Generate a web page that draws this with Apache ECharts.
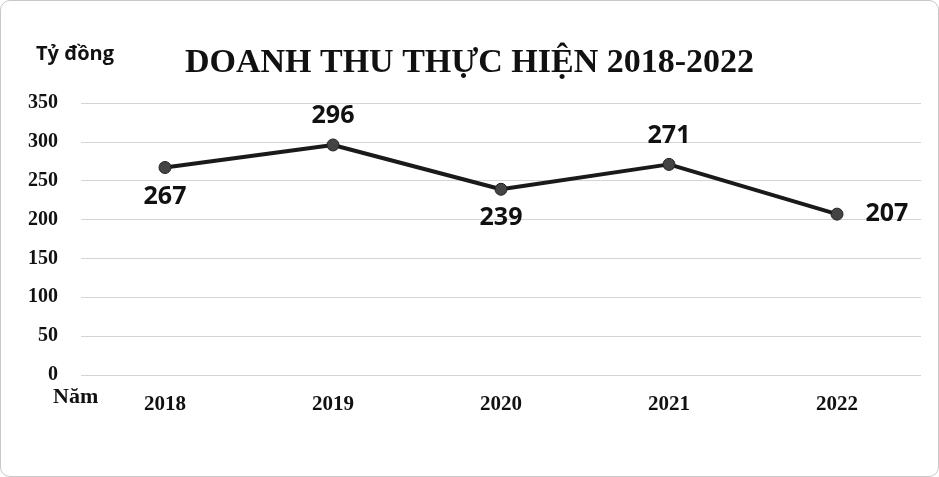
<!DOCTYPE html>
<html>
<head>
<meta charset="utf-8">
<script src="https://cdn.jsdelivr.net/npm/echarts@6/dist/echarts.min.js"></script>
<style>
  html, body { margin: 0; padding: 0; background: #fff; }
  #chart { width: 939px; height: 477px; box-sizing: border-box; border: 1px solid #c8c8c8; border-radius: 10px; }
</style>
</head>
<body>
<div id="chart"></div>
<script>
// data
const years = ['2018', '2019', '2020', '2021', '2022'];
const revenue = [267, 296, 239, 271, 207];
const labelSides = ['bottom', 'top', 'bottom', 'top', 'right'];

const chart = echarts.init(document.getElementById('chart'));

const option = {
  animation: false,
  title: {
    text: 'DOANH THU THỰC HIỆN 2018-2022',
    left: 'center',
    top: 40,
    textStyle: { fontFamily: 'Liberation Serif', fontWeight: 'bold', fontSize: 34, color: '#111' }
  },
  grid: { left: 80, right: 17, top: 102, bottom: 101 },
  xAxis: {
    type: 'category',
    data: years,
    boundaryGap: true,
    axisLine: { show: false },
    axisTick: { show: false },
    axisLabel: { margin: 19, fontFamily: 'Liberation Serif', fontWeight: 'bold', fontSize: 21, color: '#111' }
  },
  yAxis: {
    type: 'value',
    min: 0,
    max: 350,
    interval: 50,
    name: 'Tỷ đồng',
    nameLocation: 'end',
    nameGap: 39,
    nameTextStyle: { align: 'left', padding: [0, 0, 0, -45], fontFamily: 'Open Sans', fontWeight: 'bold', fontSize: 20, color: '#111' },
    axisLabel: { margin: 23, fontFamily: 'Liberation Serif', fontWeight: 'bold', fontSize: 20, color: '#111' },
    splitLine: { lineStyle: { color: '#d4d4d4', width: 1 } }
  },
  graphic: [{
    type: 'text',
    left: 52,
    top: 385,
    style: { text: 'Năm', fontFamily: 'Liberation Serif', fontWeight: 'bold', fontSize: 22, fill: '#111' }
  }],
  series: [{
    type: 'line',
    data: revenue.map((v, i) => ({
      value: v,
      label: { position: labelSides[i], distance: labelSides[i] === 'right' ? 22 : 10 }
    })),
    symbol: 'circle',
    symbolSize: 12,
    lineStyle: { color: '#1a1a1a', width: 4 },
    itemStyle: { color: '#444', borderColor: '#222', borderWidth: 1 },
    label: { show: true, fontFamily: 'Open Sans', fontWeight: 'bold', fontSize: 25, color: '#111' }
  }]
};

chart.setOption(option);
</script>
</body>
</html>
